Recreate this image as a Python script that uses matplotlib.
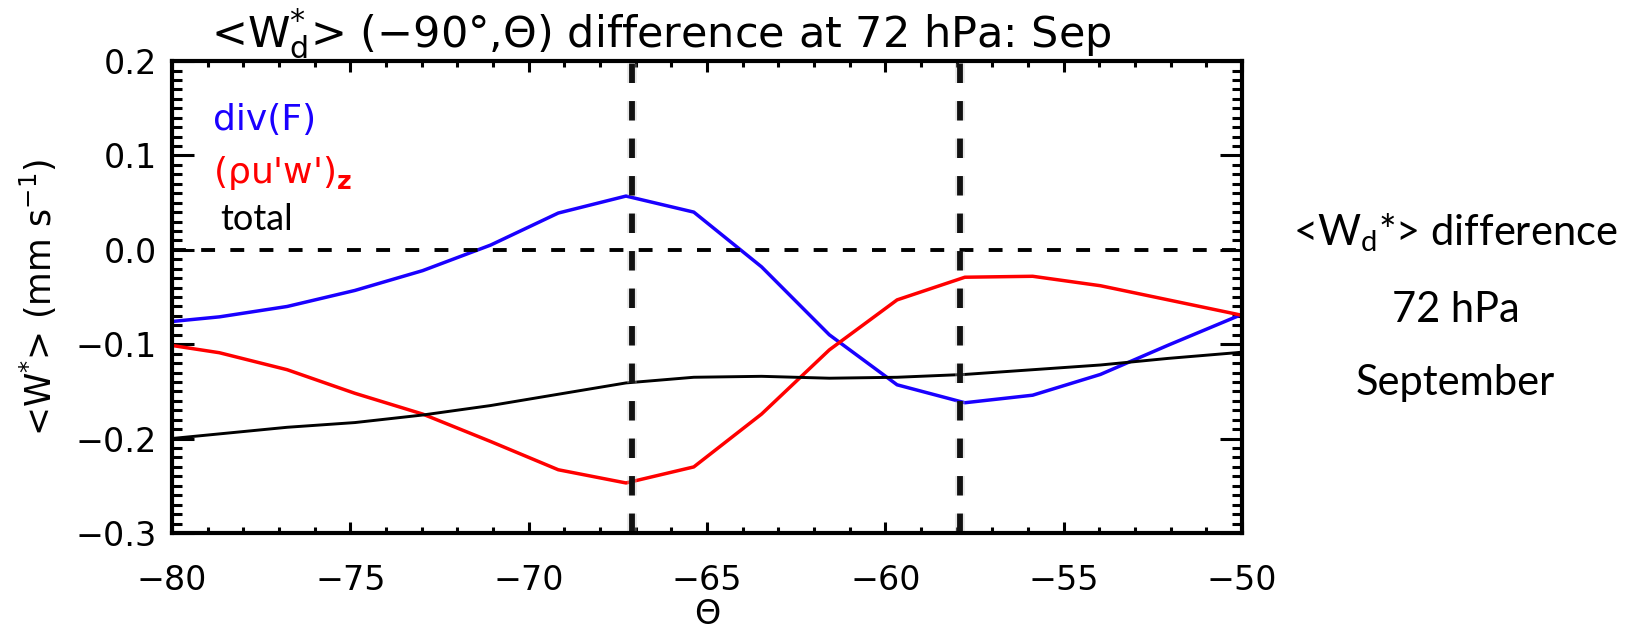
import numpy as np
import matplotlib
matplotlib.use("Agg")
import matplotlib.pyplot as plt
from matplotlib.ticker import MultipleLocator

plt.rcParams['mathtext.default'] = 'regular'
plt.rcParams['lines.scale_dashes'] = False

# latitude grid (deg) and zonal-mean W* differences (mm/s)
lat = [-80.57, -78.67, -76.77, -74.87, -72.97, -71.07, -69.17, -67.27, -65.37,
       -63.47, -61.57, -59.67, -57.77, -55.87, -53.97, -52.07, -50.17, -48.27]
w_divf = [-0.078, -0.071, -0.060, -0.043, -0.022, 0.005, 0.039, 0.057, 0.040,
          -0.018, -0.090, -0.143, -0.162, -0.154, -0.132, -0.101, -0.071, -0.041]
w_uw = [-0.098, -0.109, -0.127, -0.152, -0.174, -0.203, -0.233, -0.247, -0.230,
        -0.174, -0.106, -0.053, -0.029, -0.028, -0.038, -0.053, -0.068, -0.084]
w_total = [-0.202, -0.195, -0.188, -0.183, -0.175, -0.165, -0.153, -0.141, -0.135,
           -0.134, -0.136, -0.135, -0.132, -0.127, -0.122, -0.115, -0.109, -0.102]
vlines = [-67.1, -57.9]

fig = plt.figure(figsize=(16.39, 6.30), dpi=100)
ax = fig.add_axes([0.1049, 0.154, 0.6529, 0.749])

ax.plot(lat, w_divf, color='#1a00ff', lw=2.5)
ax.plot(lat, w_uw, color='#ff0000', lw=2.5)
ax.plot(lat, w_total, color='black', lw=2.1)

ax.axhline(0.0, color='black', lw=2.8, dashes=(10, 11))
for xv in vlines:
    ax.axvline(xv, color='#bbbbbb', lw=7, alpha=0.35, dashes=(14, 13))
    ax.axvline(xv, color='#111111', lw=4.2, dashes=(14, 13))

ax.set_xlim(-80, -50)
ax.set_ylim(-0.3, 0.2)
ax.xaxis.set_major_locator(MultipleLocator(5))
ax.xaxis.set_minor_locator(MultipleLocator(1))
ax.yaxis.set_major_locator(MultipleLocator(0.1))
ax.yaxis.set_minor_locator(MultipleLocator(0.01))
ax.yaxis.set_major_formatter(plt.FuncFormatter(lambda v, p: f"{v:.1f}".replace('-', '\u2212')))
ax.xaxis.set_major_formatter(plt.FuncFormatter(lambda v, p: f"{v:.0f}".replace('-', '\u2212')))

for s in ax.spines.values():
    s.set_linewidth(3.0)
ax.tick_params(axis='both', which='both', direction='in', top=True, right=True, width=2.2)
ax.tick_params(axis='y', which='major', length=16, labelsize=24, pad=11)
ax.tick_params(axis='y', which='minor', length=7.5)
ax.tick_params(axis='x', which='major', length=8, labelsize=24, pad=22)
ax.tick_params(axis='x', which='minor', length=4)

ax.set_xlabel('\u0398', fontsize=24, labelpad=1)
ax.set_ylabel('<W$^{*}$> (mm s$^{-1}$)', fontsize=25, labelpad=12)

ax.set_title('<W$_{d}^{*}$> (\u221290\u00b0,\u0398) difference at 72 hPa: Sep',
             fontsize=31, x=0.457, pad=6)

# series labels
ax.text(0.038, 0.875, 'div(F)', transform=ax.transAxes, color='#1a00ff',
        fontsize=26, va='center')
ax.text(0.038, 0.763, "($\\rho$u'w')$_{\\mathbf{z}}$", transform=ax.transAxes,
        color='#ff0000', fontsize=26, va='center')
ax.text(0.045, 0.665, 'total', transform=ax.transAxes, color='black',
        fontsize=26, va='center', family='Lato')

# side annotation
side = dict(fontsize=30, family='Lato', ha='center', va='center')
fig.text(0.888, 1 - 233 / 630, '<W$_d$*> difference', **side)
fig.text(0.888, 1 - 310 / 630, '72 hPa', **side)
fig.text(0.888, 1 - 383 / 630, 'September', **side)

fig.savefig('out.png', dpi=100)
